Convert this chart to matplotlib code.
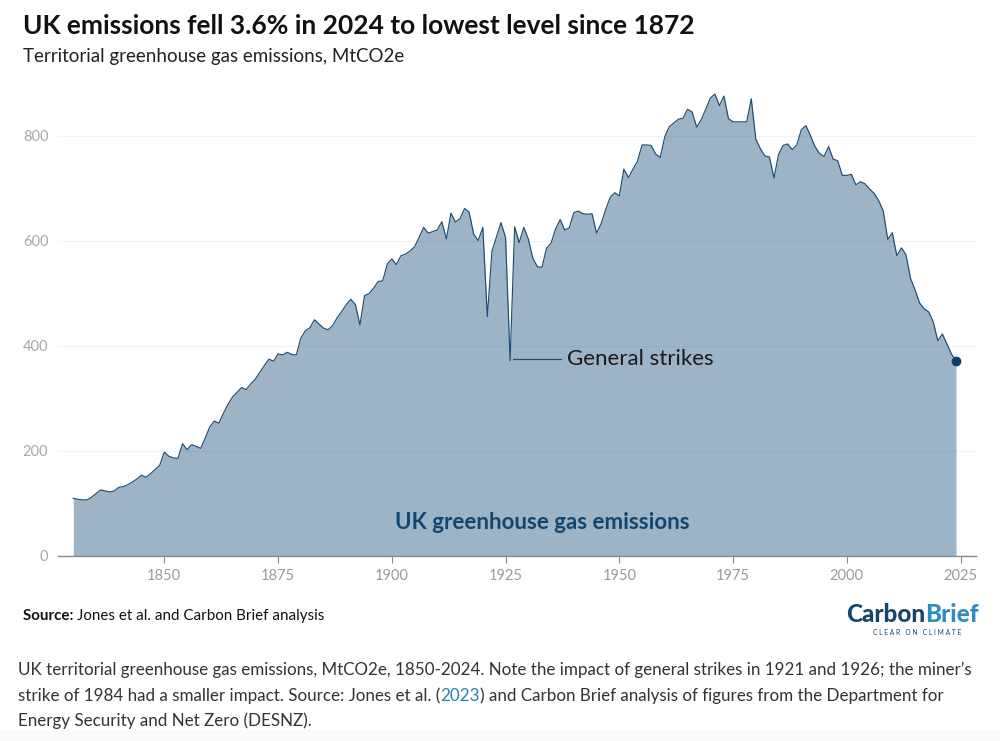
import matplotlib
matplotlib.use("Agg")
import matplotlib.pyplot as plt
from matplotlib.patches import Rectangle

years = list(range(1830, 2025))
emissions = [
 109,107,106,106,111,118,125,123,121,123,
 130,131,135,140,146,153,149,156,164,172,
 197,189,186,185,213,202,211,208,204,224,
 245,256,252,271,288,302,311,320,316,327,
 336,349,362,374,370,384,382,387,383,382,
 414,428,434,449,441,433,430,438,453,465,
 478,488,478,439,495,499,509,522,523,555,
 565,554,571,574,580,588,606,625,614,617,
 620,636,603,652,635,642,661,654,612,600,
 625,455,579,607,634,606,371,626,596,625,
 603,566,550,549,585,595,622,640,620,624,
 653,656,651,650,651,614,632,659,682,691,
 685,736,720,736,751,782,782,781,765,758,
 798,817,824,831,833,850,845,816,830,850,
 871,879,857,875,832,826,826,826,826,870,
 793,775,761,759,719,764,781,784,773,782,
 811,819,800,779,766,760,779,755,752,724,
 724,726,706,712,708,698,690,676,657,602,
 615,571,586,573,528,506,481,470,464,445,
 409,422,403,384,371]
x_ticks = [1850, 1875, 1900, 1925, 1950, 1975, 2000, 2025]
y_ticks = [0, 200, 400, 600, 800]
strike_label = "General strikes"
strike_year = 1926
series_label = "UK greenhouse gas emissions"

W, H = 1000, 741
FONT = "Lato"
fig = plt.figure(figsize=(W/100, H/100), dpi=100, facecolor="white")
plt.rcParams["font.family"] = [FONT, "DejaVu Sans"]

fig.patches.append(Rectangle((0, 0), 1, 11/H, transform=fig.transFigure, facecolor="#fafafa", edgecolor="none", zorder=-5))

left, right, top, bottom = 58, 976, 83, 555.5
ax = fig.add_axes([left/W, 1-bottom/H, (right-left)/W, (bottom-top)/H])
ax.patch.set_alpha(0)
ax.set_xlim(1830-(73.3-left)/4.55, 2024+(right-956)/4.55)
ax.set_ylim(0, (bottom-top)/0.525)
for s in ["top", "left", "right"]:
    ax.spines[s].set_visible(False)
ax.spines["bottom"].set_color("#8a8a8a")
ax.spines["bottom"].set_linewidth(1)
ax.set_xticks(x_ticks)
ax.set_yticks(y_ticks)
ax.tick_params(axis="x", length=5, width=0.8, color="#8a8a8a", labelcolor="#9a9a9a", labelsize=10.5, pad=5)
ax.tick_params(axis="y", length=0, labelcolor="#a8a8a8", labelsize=10.5, pad=7)
ax.set_axisbelow(True)
ax.grid(axis="y", color="#f3f3f3", linewidth=0.9)
ax.grid(axis="x", visible=False)

ax.fill_between(years, emissions, 0, color="#03406f", alpha=0.39, linewidth=0, zorder=2)
ax.plot(years, emissions, color="#1d4c75", linewidth=0.85, zorder=3)
ax.plot(years[-1], emissions[-1], "o", color="#0b3f6b", markersize=6, zorder=4, clip_on=False)

strike_val = emissions[years.index(strike_year)]
ax.plot([strike_year+0.6, strike_year+11.2], [strike_val+4, strike_val+4], color="#1d4c75", lw=0.9, zorder=4)
ax.text(strike_year+12.5, strike_val+4, strike_label, fontsize=16, color="#1a1a1a", va="center", ha="left", zorder=5)
ax.text(1933, 63, series_label, fontsize=16, fontweight="bold", color="#12466f", va="center", ha="center", zorder=5)

def T(x, y, s, **kw):
    kw.setdefault("va", "baseline")
    kw.setdefault("ha", "left")
    return fig.text(x/W, 1-y/H, s, **kw)

def seq(x, y, parts, size):
    r = fig.canvas.get_renderer()
    for s, color, weight in parts:
        t = T(x, y, s, fontsize=size, color=color, fontweight=weight)
        x = t.get_window_extent(r).x1

T(23, 34, "UK emissions fell 3.6% in 2024 to lowest level since 1872", fontsize=19, fontweight="bold", color="#111111")
T(23, 62, "Territorial greenhouse gas emissions, MtCO2e", fontsize=13.5, color="#222222")
seq(23, 620, [("Source: ", "#111111", "bold"), ("Jones et al. and Carbon Brief analysis", "#111111", "normal")], 10.9)

seq(846, 622, [("Carbon", "#17456e", "black"), ("Brief", "#2d8cc4", "black")], 17.5)
T(873, 635, "C L E A R   O N   C L I M A T E", fontsize=4.8, color="#17456e")

cap = "#333333"
CAP = 12.27
T(18, 675, "UK territorial greenhouse gas emissions, MtCO2e, 1850-2024. Note the impact of general strikes in 1921 and 1926; the miner\u2019s", fontsize=CAP, color=cap)
seq(18, 701, [("strike of 1984 had a smaller impact. Source: Jones et al. (", cap, "normal"), ("2023", "#2a7fbf", "normal"), (") and Carbon Brief analysis of figures from the Department for", cap, "normal")], CAP)
T(18, 726, "Energy Security and Net Zero (DESNZ).", fontsize=CAP, color=cap)

fig.savefig("out.png", dpi=100, facecolor="white")
